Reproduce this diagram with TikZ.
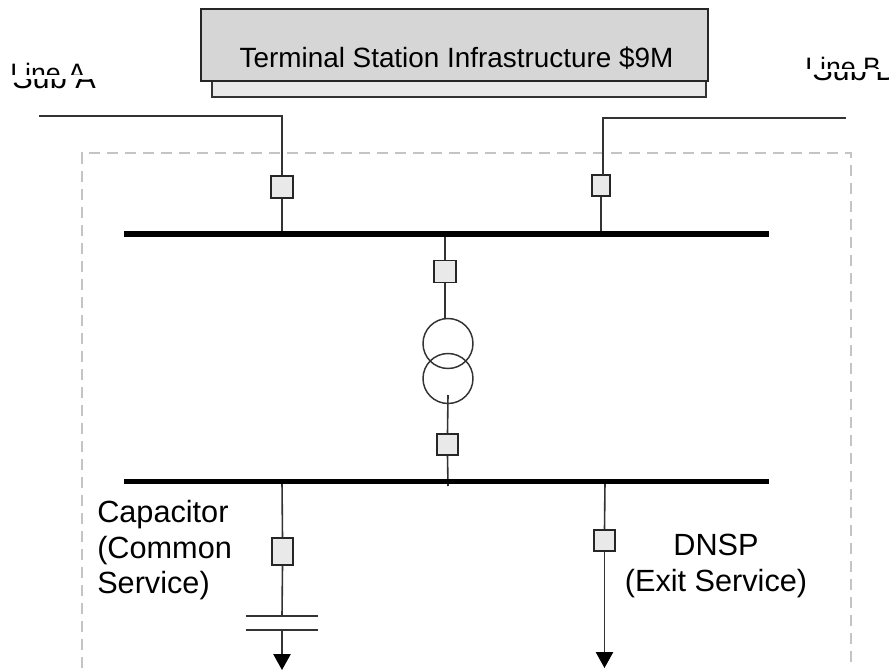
\documentclass[tikz,border=0pt]{standalone}
\usepackage{fontspec}
\setmainfont{Liberation Sans}
\usetikzlibrary{arrows.meta}
\definecolor{boxdark}{HTML}{D6D6D6}
\definecolor{boxlight}{HTML}{E9E9E9}
\definecolor{wire}{HTML}{333333}
\definecolor{dashgrey}{HTML}{C4C4C4}
\tikzset{
  wireline/.style={draw=wire,line width=1.2pt},
  feedline/.style={wireline,-{Triangle[width=13pt,length=12pt,fill=black,color=black]}},
  busbar/.style={draw=black,line width=4.2pt},
  breaker/.style={draw=black!85,fill=boxlight,line width=1.1pt,rectangle,inner sep=0pt,minimum width=#1},
  breaker/.default=16pt,
  coil/.style={draw=wire,line width=1.1pt,circle,inner sep=0pt,minimum size=37.5pt},
  lbl/.style={inner sep=0pt,font=\fontsize{23}{27}\selectfont,anchor=base west},
  lblc/.style={inner sep=0pt,font=\fontsize{23}{27}\selectfont,anchor=base},
  cutlbl/.style={inner sep=0pt,anchor=base west},
  boundary/.style={draw=dashgrey,line width=1.1pt,dash pattern=on 8.5pt off 5pt}
}
\begin{document}
\begin{tikzpicture}[x=0.75pt,y=-0.75pt]
\useasboundingbox (0,0) rectangle (889,671);
% boundary
\coordinate (bl) at (82,668);
\coordinate (tl) at (82,153);
\coordinate (tr) at (851,153);
\coordinate (br) at (851,668);
\draw[boundary] (bl) -- (tl) -- (tr) -- (br);
% top box
\node[draw=wire,fill=boxlight,line width=1.1pt,minimum width=370.5pt,minimum height=15pt,inner sep=0pt] (back) at (459,87) {};
\node[draw=black!85,fill=boxdark,line width=1.3pt,minimum width=380.25pt,minimum height=54pt,inner sep=0pt] (title) at (454.5,45) {};
\node[inner sep=0pt,font=\fontsize{20.9}{24}\selectfont,anchor=base] (titletext) at (456.5,67) {Terminal Station Infrastructure \$9M};
% labels cut as in the reference
\begin{scope}
\clip (0,50) rectangle (195,74);
\node[cutlbl,font=\fontsize{20}{24}\selectfont] (linea) at (10,82) {Line A};
\end{scope}
\begin{scope}
\clip (0,79.5) rectangle (195,100);
\node[cutlbl,font=\fontsize{23}{27}\selectfont] (suba) at (12,88) {Sub A};
\end{scope}
\begin{scope}
\clip (780,50) rectangle (889,68);
\node[cutlbl,font=\fontsize{20}{24}\selectfont] (lineb) at (805,76) {Line B};
\end{scope}
\begin{scope}
\clip (780,72) rectangle (889,100);
\node[cutlbl,font=\fontsize{23}{27}\selectfont] (subb) at (812,80) {Sub B};
\end{scope}
% buses
\coordinate (b1l) at (124,234); \coordinate (b1r) at (769,234);
\coordinate (b2l) at (124,481.5); \coordinate (b2r) at (769,481.5);
\coordinate (la) at (39,116); \coordinate (lac) at (282,116);
\coordinate (lb) at (846,118); \coordinate (lbc) at (603,118);
\coordinate (ba) at (282,234); \coordinate (bb) at (601,234);
\coordinate (tb) at (445,234);
\coordinate (lowb) at (448,486);
\coordinate (capb) at (282,482); \coordinate (dnspb) at (605,482);
\coordinate (tcoil) at (445,319); \coordinate (lcoil) at (448,395);
\coordinate (p1l) at (246,616); \coordinate (p1r) at (318,616);
\coordinate (p2l) at (246,630); \coordinate (p2r) at (318,630);
\coordinate (p1) at (282,616); \coordinate (p2) at (282,630);
\coordinate (capt) at (282,670); \coordinate (dnspt) at (604.5,668);
% breakers
\node[breaker=16.5pt,minimum height=16.5pt] (q1) at (282,187) {};
\node[breaker=13.5pt,minimum height=15.75pt] (q2) at (601,185.5) {};
\node[breaker=16.5pt,minimum height=16.5pt] (q3) at (445,271.5) {};
\node[breaker=15.5pt,minimum height=15.5pt] (q4) at (447.5,444.5) {};
\node[breaker=16pt,minimum height=20pt] (q5) at (282.5,551.5) {};
\node[breaker=16pt,minimum height=15.5pt] (q6) at (604.5,540.5) {};
% wires
\draw[wireline] (la) -- (lac) -- (q1.north);
\draw[wireline] (lb) -- (lbc) -- (603,175);
\draw[wireline] (q1.south) -- (ba);
\draw[wireline] (q2.south) -- (bb);
\draw[wireline] (tb) -- (q3.north);
\draw[wireline] (q3.south) -- (tcoil);
\draw[wireline] (lcoil) -- (q4.north);
\draw[wireline] (q4.south) -- (lowb);
\draw[wireline] (capb) -- (q5.north);
\draw[wireline] (q5.south) -- (p1);
\draw[wireline] (p1l) -- (p1r);
\draw[wireline] (p2l) -- (p2r);
\draw[feedline] (p2) -- (capt);
\draw[wireline] (dnspb) -- (q6.north);
\draw[feedline] (q6.south) -- (dnspt);
% transformer
\node[coil] (c1) at (448,343.5) {};
\node[coil] (c2) at (448,378.5) {};
% bars on top
\draw[busbar] (b1l) -- (b1r);
\draw[busbar] (b2l) -- (b2r);
% labels
\node[lbl] (cap1) at (97,522) {Capacitor};
\node[lbl] (cap2) at (97,558) {(Common};
\node[lbl] (cap3) at (97,593) {Service)};
\node[lblc] (dn1) at (716,555) {DNSP};
\node[lblc] (dn2) at (716,591) {(Exit Service)};
\end{tikzpicture}
\end{document}
